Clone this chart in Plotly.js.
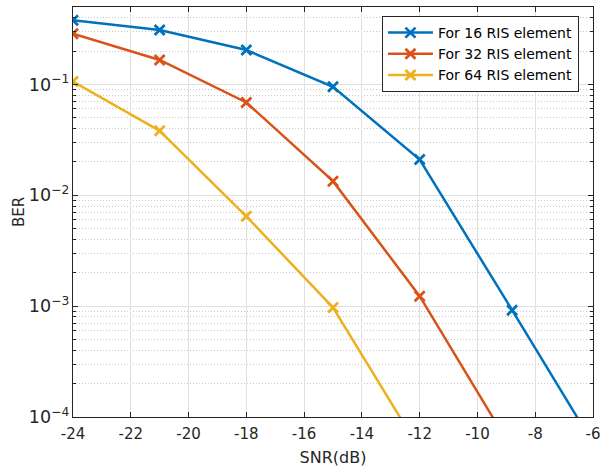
<!DOCTYPE html>
<html>
<head>
<meta charset="utf-8">
<script src="https://cdn.plot.ly/plotly-3.0.1.min.js"></script>
<style>html,body{margin:0;padding:0;background:#fff;}#chart{width:614px;height:470px;}</style>
</head>
<body>
<div id="chart"></div>
<script>
// Data
const names = ["For 16 RIS element", "For 32 RIS element", "For 64 RIS element"];
const snr16 = [-24, -21, -18, -15, -12, -8.8, -5.6];
const ber16 = [0.378, 0.31, 0.204, 0.095, 0.021, 9.2e-4, 3.9e-5];
const snr32 = [-24, -21, -18, -15, -12, -8.8];
const ber32 = [0.286, 0.166, 0.0687, 0.0134, 1.23e-3, 5.1e-5];
const snr64 = [-24, -21, -18, -15, -12];
const ber64 = [0.106, 0.0381, 0.00646, 9.7e-4, 5.1e-5];
const colors = ["#0072BD", "#D95319", "#EDB120"];
const xTicks = [-24, -22, -20, -18, -16, -14, -12, -10, -8, -6];

function tr(x, y, name, c) {
  return {
    x: x, y: y, name: name, type: "scatter", mode: "lines+markers",
    line: {color: c, width: 2.5},
    marker: {symbol: "x-thin-open", size: 10, color: c, line: {color: c, width: 2.8}},
    cliponaxis: true
  };
}
const data = [
  tr(snr16, ber16, names[0], colors[0]),
  tr(snr32, ber32, names[1], colors[1]),
  tr(snr64, ber64, names[2], colors[2])
];
const fam = "DejaVu Sans, Verdana, sans-serif";
const layout = {
  width: 614, height: 470,
  margin: {l: 73, r: 21, t: 7, b: 53},
  paper_bgcolor: "#fff", plot_bgcolor: "#fff",
  font: {family: fam, size: 14, color: "#262626"},
  showlegend: true,
  legend: {
    x: 0.973, y: 0.978, xanchor: "right", yanchor: "top",
    bgcolor: "#fff", bordercolor: "#262626", borderwidth: 1,
    font: {family: fam, size: 14, color: "#000"},
    itemwidth: 45, tracegroupgap: 0
  },
  xaxis: {
    range: [-24, -6], tickvals: xTicks, ticktext: xTicks.map(v => String(v)),
    showline: true, linecolor: "#262626", linewidth: 1, mirror: "ticks",
    ticks: "inside", ticklen: 5, tickcolor: "#262626", ticklabelstandoff: 3,
    showgrid: true, gridcolor: "#e0e0e0", gridwidth: 1, zeroline: false,
    title: {text: "SNR(dB)", font: {family: fam, size: 16, color: "#262626"}, standoff: 9},
    tickfont: {family: fam, size: 15, color: "#262626"}
  },
  yaxis: {
    type: "log", range: [-4, -0.302], dtick: 1, exponentformat: "power",
    showline: true, linecolor: "#262626", linewidth: 1, mirror: "ticks",
    ticks: "inside", ticklen: 5, tickcolor: "#262626",
    showgrid: true, gridcolor: "#e0e0e0", gridwidth: 1, zeroline: false,
    minor: {dtick: "D1", ticks: "inside", ticklen: 3, tickcolor: "#262626", showgrid: true, gridcolor: "#c8c8c8", griddash: "1px,2px", gridwidth: 1},
    title: {text: "BER", font: {family: fam, size: 15, color: "#262626"}, standoff: 0},
    tickfont: {family: fam, size: 14, color: "#262626"}
  }
};
Plotly.newPlot("chart", data, layout, {displayModeBar: false, staticPlot: true});
</script>
</body>
</html>
